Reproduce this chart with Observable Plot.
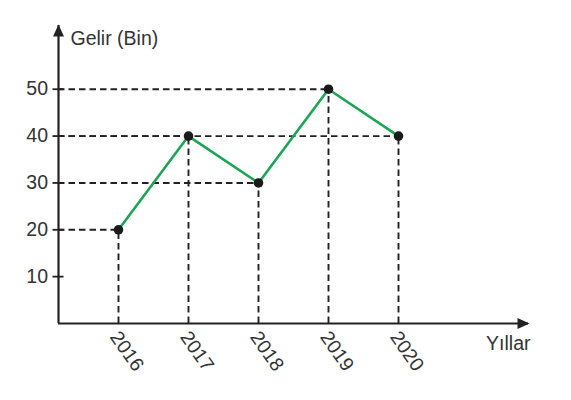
<!DOCTYPE html>
<html>
<head>
<meta charset="utf-8">
<script src="https://cdn.jsdelivr.net/npm/d3@7"></script>
<script src="https://cdn.jsdelivr.net/npm/@observablehq/plot@0.6"></script>
<style>
  html, body { margin: 0; padding: 0; background: #fff; }
  #chart svg { display: block; }
</style>
</head>
<body>
<div id="chart"></div>
<script>
const years = [2016, 2017, 2018, 2019, 2020];
const values = [20, 40, 30, 50, 40];
const yTicks = [10, 20, 30, 40, 50];
const yLabel = "Gelir (Bin)";
const xLabel = "Yıllar";

const xDomain = [2015.143, 2021.857];
const yDomain = [0, 63.6];

const data = years.map((year, i) => ({ year, value: values[i] }));

const ink = "#222";
const textColor = "#333";
const green = "#1aa652";
const fs = 19.5;

const arrowHead = {
  draw(context) {
    context.moveTo(0, -1);
    context.lineTo(-5.5, 11);
    context.lineTo(5.5, 11);
    context.closePath();
  }
};

const chart = Plot.plot({
  width: 571,
  height: 400,
  marginLeft: 58,
  marginRight: 43,
  marginTop: 25,
  marginBottom: 77,
  style: { fontFamily: "'Liberation Sans', Arial, Helvetica, sans-serif", fontSize: fs + "px", color: textColor, background: "#fff" },
  x: { type: "linear", domain: xDomain },
  y: { type: "linear", domain: yDomain },
  marks: [
    // dashed guides
    Plot.ruleY(data, { y: "value", x1: xDomain[0], x2: "year", stroke: ink, strokeWidth: 1.9, strokeDasharray: "6.5,4" }),
    Plot.ruleX(data, { x: "year", y1: 0, y2: "value", stroke: ink, strokeWidth: 1.9, strokeDasharray: "6.5,4" }),
    // axis lines
    Plot.ruleX([xDomain[0]], { y1: 0, y2: yDomain[1], stroke: ink, strokeWidth: 2.2 }),
    Plot.ruleY([0], { x1: xDomain[0], x2: xDomain[1], stroke: ink, strokeWidth: 2.2 }),
    Plot.dot([{ x: xDomain[0], y: yDomain[1] }], { x: "x", y: "y", symbol: arrowHead, fill: ink, stroke: null, rotate: 0 }),
    Plot.dot([{ x: xDomain[1], y: 0 }], { x: "x", y: "y", symbol: arrowHead, fill: ink, stroke: null, rotate: 90 }),
    // axes
    Plot.axisY({ ticks: yTicks, tickSize: 11, dx: 5.5, tickPadding: 5, tickFormat: d => String(d), label: null, stroke: ink, strokeWidth: 1.8, fill: textColor, fontSize: fs }),
    Plot.axisX({ ticks: years, tickSize: 0, tickRotate: 55, tickPadding: 10, dx: -4, tickFormat: d => String(d), label: null, fill: textColor, fontSize: fs }),
    // series
    Plot.line(data, { x: "year", y: "value", stroke: green, strokeWidth: 2.6 }),
    Plot.dot(data, { x: "year", y: "value", r: 4.8, fill: "#1a1a1a", stroke: null }),
    // labels
    Plot.text([yLabel], { frameAnchor: "top-left", dx: 12, dy: 6, textAnchor: "start", fill: textColor, fontSize: fs }),
    Plot.text([xLabel], { frameAnchor: "bottom-right", dx: 2, dy: 26, textAnchor: "end", fill: textColor, fontSize: fs })
  ]
});

document.getElementById("chart").appendChild(chart);
</script>
</body>
</html>
